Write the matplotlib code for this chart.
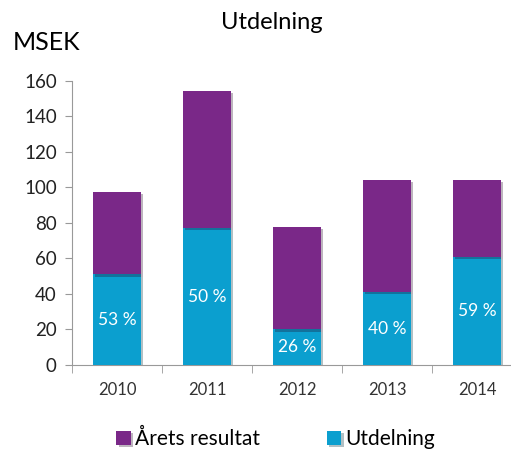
import numpy as np
import matplotlib.pyplot as plt
import matplotlib.patheffects as pe

plt.rcParams['font.family'] = ['Lato', 'DejaVu Sans']

years = ['2010', '2011', '2012', '2013', '2014']
arets_resultat = [97.5, 154.5, 77.5, 104, 104]
utdelning = [51, 77, 20, 41, 61]
andel = ['53 %', '50 %', '26 %', '40 %', '59 %']

purple = '#7a2888'
blue = '#0b9fcf'

fig = plt.figure(figsize=(5.11, 4.5), dpi=100)
ax = fig.add_axes([0.141, 0.189, 0.881, 0.631])

x = np.arange(len(years))
rest = np.array(arets_resultat) - np.array(utdelning)
width = 0.53
shadow = [pe.SimplePatchShadow(offset=(1.5, -1.5), alpha=0.3), pe.Normal()]

b1 = ax.bar(x, utdelning, width, color=blue, label='Utdelning', zorder=3)
b2 = ax.bar(x, rest, width, bottom=utdelning, color=purple, label='Årets resultat', zorder=3)
for b in list(b1) + list(b2):
    b.set_path_effects(shadow)

for xi, u, txt in zip(x, utdelning, andel):
    ax.text(xi, u / 2, txt, ha='center', va='center', color='white', fontsize=12.5, zorder=4)

ax.set_xlim(-0.5, 4.5)
ax.set_ylim(0, 160)
ax.set_yticks(np.arange(0, 161, 20))
ax.set_xticks(x)
ax.set_xticklabels(years)
ax.set_xticks(np.arange(-0.5, 4.6, 1), minor=True)
ax.tick_params(axis='x', which='major', length=0, pad=12, labelsize=12, labelcolor='#333333')
ax.tick_params(axis='x', which='minor', length=6, color='#999999', direction='out')
ax.tick_params(axis='y', length=5, color='#999999', labelsize=13.5, labelcolor='#222222', pad=6)

for s in ['top', 'right']:
    ax.spines[s].set_visible(False)
for s in ['left', 'bottom']:
    ax.spines[s].set_color('#999999')

fig.text(0.532, 0.951, 'Utdelning', ha='center', va='center', fontsize=17, color='black')
fig.text(0.024, 0.906, 'MSEK', ha='left', va='center', fontsize=18, color='black')

handles = [b2, b1]
fig.legend(handles, ['Årets resultat', 'Utdelning'], loc='center', bbox_to_anchor=(0.54, 0.024),
           ncol=2, frameon=False, fontsize=15, handlelength=0.7, handleheight=0.7,
           handletextpad=0.2, columnspacing=3.2)

fig.savefig('out.png', dpi=100)
